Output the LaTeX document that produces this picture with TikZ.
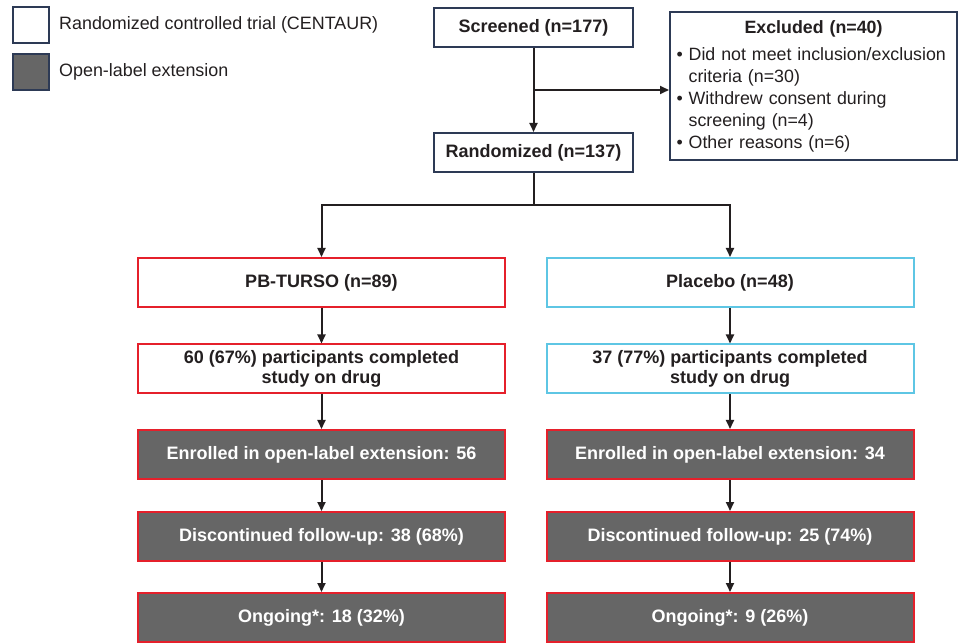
\documentclass[tikz,border=0pt]{standalone}
\usepackage{fontspec}
\setmainfont{Liberation Sans}
\usepackage{tikz}
\usetikzlibrary{arrows.meta,calc}

\definecolor{navyline}{HTML}{2D3A55}
\definecolor{olegray}{HTML}{666666}
\definecolor{armred}{HTML}{E5202B}
\definecolor{armcyan}{HTML}{5EC6E4}
\definecolor{inktext}{HTML}{231F20}

\tikzset{
  flow/.style={line width=2pt,inktext,-{Triangle[length=9pt,width=8pt]}},
  flowline/.style={line width=2pt,inktext},
  rctbox/.style={draw=navyline,line width=2pt,fill=white,minimum width=199pt,minimum height=39pt,
    inner sep=0pt,text=inktext,font=\fontsize{18}{20}\selectfont\bfseries},
  armbox/.style={draw=#1,line width=2pt,fill=white,minimum width=367pt,minimum height=49pt,
    inner sep=0pt,align=center,text=inktext,font=\fontsize{18}{20}\selectfont\bfseries},
  olebox/.style={draw=armred,line width=2pt,fill=olegray,minimum width=367pt,minimum height=49pt,
    inner sep=0pt,text=white,font=\fontsize{18}{20}\selectfont\bfseries},
  keybox/.style={draw=navyline,line width=2pt,minimum width=36pt,minimum height=36pt,inner sep=0pt},
  keytext/.style={anchor=west,inner sep=0pt,text=inktext,font=\fontsize{17.9}{20}\selectfont}
}
\newcommand{\hangbullet}{\phantom{\textbullet\ }}

\begin{document}
\begin{tikzpicture}[x=1pt,y=-1pt]
    \useasboundingbox (0,0) rectangle (962,644);

    % Legend
    \node[keybox,fill=white] (keyrct) at (31,25) {};
    \node[keytext] (keyrcttxt) at (59,25) {Randomized controlled trial (CENTAUR)};
    \node[keybox,fill=olegray] (keyole) at (31,72) {};
    \node[keytext] (keyoletxt) at (59,72) {Open-label extension};

    % Screening and randomization
    \node[rctbox] (screen) at (533.5,27.5) {Screened (n=177)};
    \node[rctbox] (rand) at (533.5,152.5) {Randomized (n=137)};
    \node[draw=navyline,line width=2pt,fill=white,minimum width=287pt,minimum height=148pt,
      text width=274pt,align=left,inner sep=0pt,text=inktext,
      font=\fontsize{17.8}{22}\selectfont] (excl) at (813.5,86)
      {\makebox[274pt]{\bfseries Excluded (n=40)}\\[5pt]
       \textbullet\ Did not meet inclusion/exclusion\\
       \hangbullet criteria (n=30)\\
       \textbullet\ Withdrew consent during\\
       \hangbullet screening (n=4)\\
       \textbullet\ Other reasons (n=6)};

    \coordinate (branch) at (533.5,90);
    \coordinate (split) at (533.5,205);
    \draw[flow] (screen) -- (rand);
    \draw[flow] (branch) -- (branch -| excl.west);

    % Left arm
    \node[armbox=armred] (pb) at (321.5,282.5) {PB-TURSO (n=89)};
    \node[armbox=armred] (pbdone) at (321.5,369) {60 (67\%) participants completed\\study on drug};
    \node[olebox] (pbenr) at (321.5,454.5) {Enrolled in open-label extension: 56};
    \node[olebox] (pbdisc) at (321.5,536.5) {Discontinued follow-up: 38 (68\%)};
    \node[olebox] (pbong) at (321.5,617.5) {Ongoing*: 18 (32\%)};

    % Right arm
    \node[armbox=armcyan] (plc) at (730,282.5) {Placebo (n=48)};
    \node[armbox=armcyan] (plcdone) at (730,369) {37 (77\%) participants completed\\study on drug};
    \node[olebox] (plcenr) at (730,454.5) {Enrolled in open-label extension: 34};
    \node[olebox] (plcdisc) at (730,536.5) {Discontinued follow-up: 25 (74\%)};
    \node[olebox] (plcong) at (730,617.5) {Ongoing*: 9 (26\%)};

    % Connectors
    \draw[flowline] (rand) -- (split);
    \draw[flow] (split) -| (pb);
    \draw[flow] (split) -| (plc);
    \draw[flow] (pb) -- (pbdone);
    \draw[flow] (pbdone) -- (pbenr);
    \draw[flow] (pbenr) -- (pbdisc);
    \draw[flow] (pbdisc) -- (pbong);
    \draw[flow] (plc) -- (plcdone);
    \draw[flow] (plcdone) -- (plcenr);
    \draw[flow] (plcenr) -- (plcdisc);
    \draw[flow] (plcdisc) -- (plcong);
\end{tikzpicture}
\end{document}
